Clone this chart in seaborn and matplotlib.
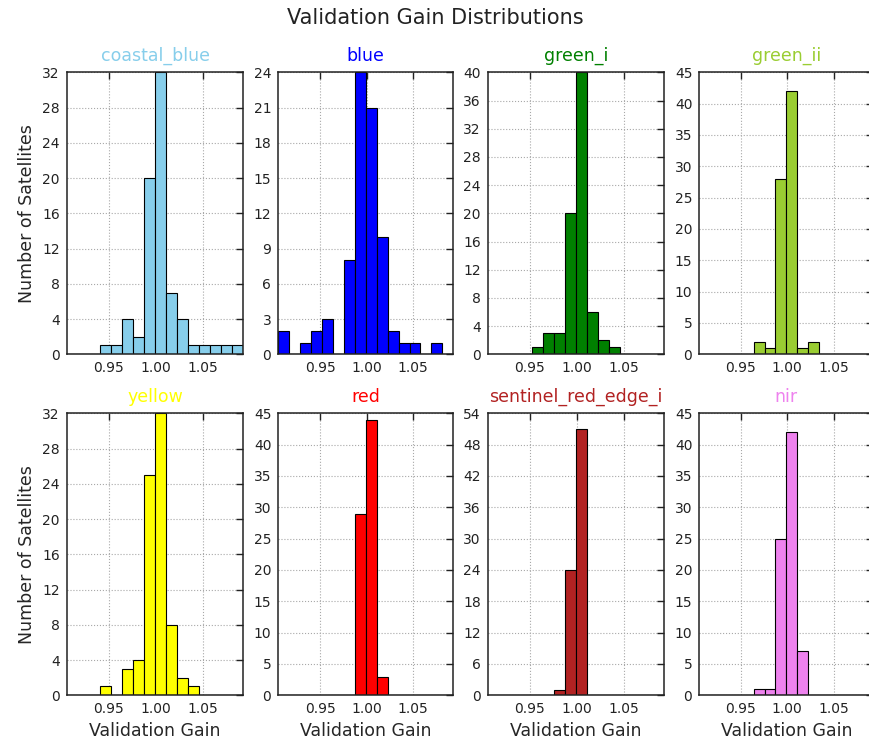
import numpy as np
import pandas as pd
import matplotlib
matplotlib.use("Agg")
import matplotlib.pyplot as plt
import seaborn as sns

# Spectral bands and their display colours
bands = ["coastal_blue", "blue", "green_i", "green_ii",
         "yellow", "red", "sentinel_red_edge_i", "nir"]
band_colors = ["skyblue", "blue", "green", "yellowgreen",
               "yellow", "red", "firebrick", "violet"]

# Shared validation-gain range, split into 16 bins
gain_range = (0.905, 1.093)
n_bins = 16

# Satellites per gain bin, one list per band
coastal_blue = [0, 0, 0, 1, 1, 4, 2, 20, 32, 7, 4, 1, 1, 1, 1, 1]
blue = [2, 0, 1, 2, 3, 0, 8, 24, 21, 10, 2, 1, 1, 0, 1, 0]
green_i = [0, 0, 0, 0, 1, 3, 3, 20, 40, 6, 2, 1, 0, 0, 0, 0]
green_ii = [0, 0, 0, 0, 0, 2, 1, 28, 42, 1, 2, 0, 0, 0, 0, 0]
yellow = [0, 0, 0, 1, 0, 3, 4, 25, 32, 8, 2, 1, 0, 0, 0, 0]
red = [0, 0, 0, 0, 0, 0, 0, 29, 44, 3, 0, 0, 0, 0, 0, 0]
sentinel_red_edge_i = [0, 0, 0, 0, 0, 0, 1, 24, 51, 0, 0, 0, 0, 0, 0, 0]
nir = [0, 0, 0, 0, 0, 1, 1, 25, 42, 7, 0, 0, 0, 0, 0, 0]
band_counts = [coastal_blue, blue, green_i, green_ii,
               yellow, red, sentinel_red_edge_i, nir]

# Y-axis range and tick step per panel
y_tops = [32, 24, 40, 45, 32, 45, 54, 45]
y_steps = [4, 3, 4, 5, 4, 5, 6, 5]

x_ticks = [0.95, 1.00, 1.05]
x_tick_labels = ["0.95", "1.00", "1.05"]

sns.set_style("white")
plt.rcParams["font.family"] = ["DejaVu Sans"]
plt.rcParams["text.color"] = "#222222"

W, H = 870, 743
fig = plt.figure(figsize=(W / 100, H / 100), dpi=100)

# Panel grid in pixels
col_lefts = [66.7, 278.3, 487.7, 699.3]
col_widths = [176.6, 175.0, 176.3, 174.0]
row_tops = [72.3, 413.3]
ax_h = 282.0

edges = np.linspace(gain_range[0], gain_range[1], n_bins + 1)
centers = (edges[:-1] + edges[1:]) / 2

for i, (band, color, counts) in enumerate(zip(bands, band_colors, band_counts)):
    r, c = divmod(i, 4)
    left = col_lefts[c] / W
    bottom = (H - row_tops[r] - ax_h) / H
    ax = fig.add_axes([left, bottom, col_widths[c] / W, ax_h / H])
    df = pd.DataFrame({"gain": centers, "satellites": counts})
    sns.histplot(data=df, x="gain", weights="satellites", bins=n_bins,
                 binrange=gain_range, ax=ax, color=color, edgecolor="black",
                 linewidth=0.8, alpha=1.0)
    ax.set_xlim(*gain_range)
    ax.set_ylim(0, y_tops[i])
    ax.set_yticks(np.arange(0, y_tops[i] + 1, y_steps[i]))
    ax.set_xticks(x_ticks)
    ax.set_xticklabels(x_tick_labels)
    ax.set_axisbelow(True)
    ax.grid(True, linestyle=":", color="#a8a8a8", linewidth=0.8)
    ax.tick_params(direction="in", top=True, right=True, length=5, width=1,
                   labelsize=10, colors="#222222", pad=5)
    for sp in ax.spines.values():
        sp.set_linewidth(1.1)
        sp.set_color("#222222")
    ax.set_title(band, color=color, fontsize=12.5, pad=8)
    ax.set_ylabel("Number of Satellites" if c == 0 else "", fontsize=12.5)
    ax.set_xlabel("Validation Gain" if r == 1 else "", fontsize=12.5)

fig.suptitle("Validation Gain Distributions", fontsize=15, y=1 - 18 / H, va="center")

fig.savefig("out.png", dpi=100, facecolor="white")
